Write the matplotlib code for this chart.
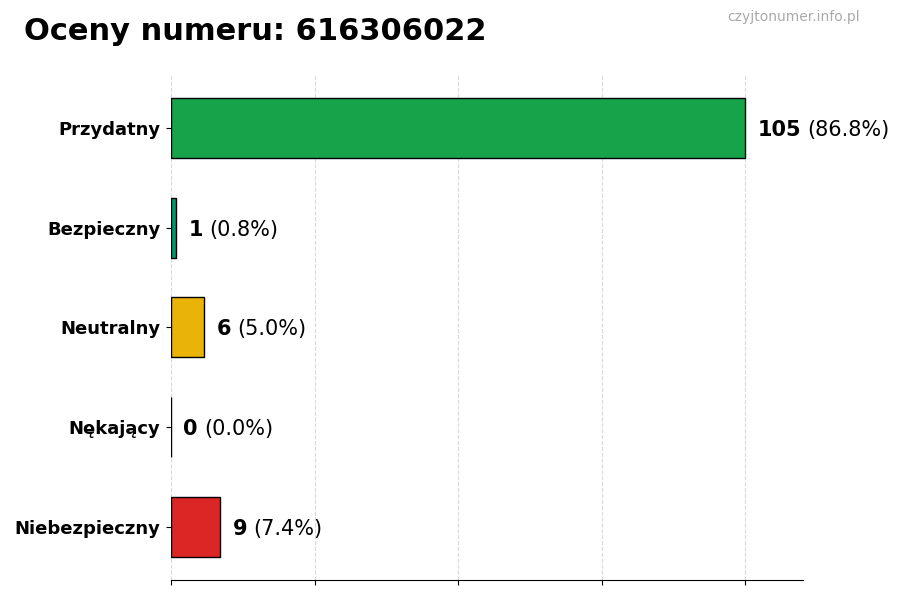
import numpy as np
import matplotlib.pyplot as plt

categories = ["Przydatny", "Bezpieczny", "Neutralny", "Nękający", "Niebezpieczny"]
counts = [105, 1, 6, 0, 9]
percents = [86.8, 0.8, 5.0, 0.0, 7.4]
colors = ["#16a34a", "#059669", "#eab308", "#9ca3af", "#dc2626"]

fig = plt.figure(figsize=(9, 6), dpi=100)
ax = fig.add_axes([0.19, 0.0333, 0.702, 0.842])

y = np.arange(len(categories))
ax.barh(y, counts, height=0.6, color=colors, edgecolor="black", linewidth=1, zorder=3)
ax.set_yticks(y)
ax.set_yticklabels(categories, fontsize=13, fontweight="bold")
ax.tick_params(axis="y", pad=4)
ax.invert_yaxis()

xmax = max(counts) * 1.1
ax.set_xlim(0, xmax)
ax.set_xticks(np.linspace(0, max(counts), 5))
ax.set_xticklabels([])
ax.grid(axis="x", linestyle="--", color="#d9d9d9", linewidth=0.8, zorder=0)
for s in ["top", "right", "left"]:
    ax.spines[s].set_visible(False)

fig.canvas.draw()
renderer = fig.canvas.get_renderer()
for yi, c, p in zip(y, counts, percents):
    t = ax.annotate(str(c), xy=(c, yi), xytext=(9, 0), textcoords="offset points",
                    va="center_baseline", ha="left", fontsize=15, fontweight="bold")
    bb = t.get_window_extent(renderer)
    x_data = ax.transData.inverted().transform((bb.x1, 0))[0]
    ax.annotate(f"({p:.1f}%)", xy=(x_data, yi), xytext=(4.5, 0), textcoords="offset points",
                va="center_baseline", ha="left", fontsize=15, annotation_clip=False)

fig.text(0.027, 0.948, "Oceny numeru: 616306022", fontsize=22, fontweight="bold",
         ha="left", va="center")
fig.text(0.955, 0.971, "czyjtonumer.info.pl", fontsize=10, color="#aaaaaa",
         ha="right", va="center")

fig.savefig("out.png", dpi=100)
